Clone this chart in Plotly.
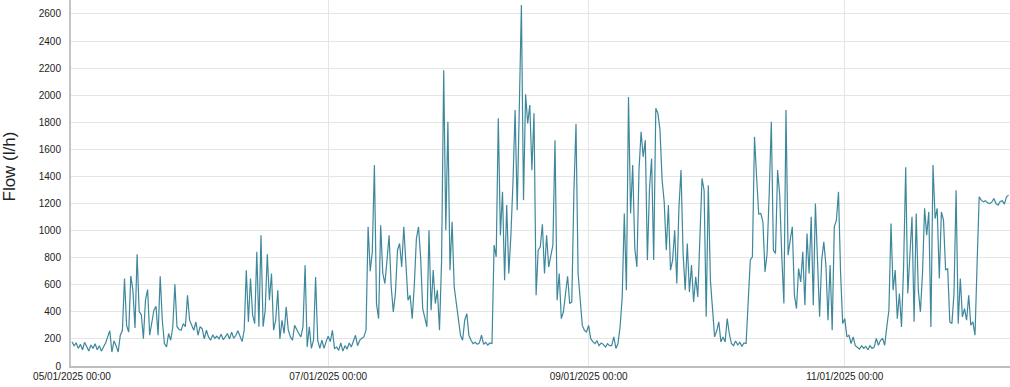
import pandas as pd
import plotly.graph_objects as go

# Flow readings every 12 hours, starting 2025-05-01 00:00 (l/h)
flow_may = [178, 150, 170, 130, 160, 120, 175, 140, 110, 155,
            130, 165, 120, 150, 110, 140, 170, 215, 260, 103,
            185, 150, 103, 227, 264, 646, 300, 250, 665, 560,
            281, 826, 400, 380, 202, 486, 565, 227, 313, 412,
            441, 227, 663, 338, 165, 140, 240, 190, 290, 604,
            290, 270, 264, 313, 290, 523, 338, 300, 264, 325,
            227, 290]
flow_jun = [275, 200, 264, 215, 190, 230, 205, 220, 200, 235,
            195, 215, 240, 200, 250, 205, 225, 260, 215, 180,
            264, 707, 325, 646, 380, 313, 843, 290, 966, 290,
            412, 826, 486, 683, 264, 338, 560, 200, 338, 240,
            437, 264, 215, 190, 300, 264, 240, 215, 290, 744,
            140, 290, 130, 190, 658, 190, 130, 190, 130, 180]
flow_jul = [220, 180, 264, 130, 140, 115, 170, 110, 150, 125,
            170, 140, 185, 227, 150, 190, 205, 215, 264, 1028,
            700, 843, 1484, 461, 350, 1040, 683, 609, 782, 966,
            585, 400, 535, 855, 905, 732, 1028, 782, 486, 523,
            350, 597, 941, 1028, 806, 424, 350, 289, 1003, 412,
            708, 461, 560, 264, 782, 2185, 1003, 1804, 708, 1065,
            585, 473]
flow_aug = [338, 227, 190, 338, 387, 227, 190, 165, 175, 160,
            170, 227, 160, 175, 155, 170, 166, 893, 806, 1829,
            966, 1286, 634, 1188, 683, 966, 1360, 1890, 1150, 1890,
            2666, 1225, 2007, 1791, 1927, 1445, 1866, 523, 855, 880,
            1047, 683, 966, 732, 830, 893, 1668, 486, 683, 350,
            400, 560, 663, 461, 473, 1286, 1787, 683, 461, 300,
            264, 252]
flow_sep = [300, 202, 180, 165, 185, 150, 170, 160, 140, 165,
            150, 150, 215, 130, 166, 290, 512, 1126, 560, 1986,
            1126, 1484, 868, 732, 1447, 1730, 1545, 1668, 782, 1311,
            1533, 782, 1903, 1866, 1742, 1373, 1212, 855, 1188, 708,
            782, 1003, 609, 1164, 1447, 831, 560, 905, 547, 745,
            473, 658, 510, 1028, 1385, 1298, 363, 1335, 634, 424]
flow_oct = [215, 260, 326, 178, 215, 178, 350, 240, 166, 150,
            185, 155, 175, 145, 170, 166, 535, 782, 806, 1693,
            1398, 1122, 1126, 1065, 695, 831, 1274, 1804, 855, 831,
            1447, 1262, 806, 461, 1891, 818, 930, 1028, 523, 424,
            720, 621, 843, 449, 979, 683, 1102, 449, 1200, 782,
            363, 782, 917, 745, 338, 745, 264, 1028, 1077, 1286,
            683, 313]
flow_nov = [350, 215, 227, 166, 215, 150, 140, 125, 150, 130,
            145, 120, 150, 130, 140, 203, 153, 190, 203, 153,
            289, 412, 1052, 560, 708, 350, 535, 289, 732, 1468,
            535, 880, 1102, 326, 1126, 560, 400, 683, 1164, 966,
            1138, 289, 1484, 1089, 1164, 646, 1138, 1077, 708, 720,
            326, 313, 535, 1298, 313, 646, 363, 424, 338, 523]
flow_dec = [301, 326, 227, 757, 1249, 1225, 1212, 1220, 1205, 1200,
            1210, 1237, 1200, 1188, 1215, 1220, 1195, 1250, 1262]

start_time = "2025-05-01 00:00"
tick_dates = ["2025-05-01", "2025-07-01", "2025-09-01", "2025-11-01"]
tick_labels = ["05/01/2025 00:00", "07/01/2025 00:00", "09/01/2025 00:00", "11/01/2025 00:00"]
y_ticks = list(range(0, 2601, 200))
x_range = ["2025-04-30 18:17", "2025-12-10 08:00"]
y_range = [0, 2703]

flow = flow_may + flow_jun + flow_jul + flow_aug + flow_sep + flow_oct + flow_nov + flow_dec
times = pd.date_range(start_time, periods=len(flow), freq="12h")

fig = go.Figure()
fig.add_trace(go.Scatter(
    x=times, y=flow, mode="lines",
    line=dict(color="#3e889c", width=1.2),
    hoverinfo="x+y", showlegend=False,
))

font_family = "Liberation Sans, Arial, sans-serif"
fig.update_layout(
    width=1010, height=387,
    margin=dict(l=71, r=0, t=0, b=21),
    paper_bgcolor="white", plot_bgcolor="white",
    font=dict(family=font_family, size=10, color="#222"),
    xaxis=dict(
        range=x_range, tickvals=tick_dates, ticktext=tick_labels,
        showgrid=True, gridcolor="#e5e5e5", gridwidth=1,
        showline=True, linecolor="#bdbdbd", linewidth=2,
        ticks="", tickfont=dict(size=10, color="#222"),
        zeroline=False, fixedrange=True,
    ),
    yaxis=dict(
        range=y_range, tickvals=y_ticks,
        showgrid=True, gridcolor="#e5e5e5", gridwidth=1,
        showline=True, linecolor="#c4c4c4", linewidth=2,
        ticks="", tickfont=dict(size=10, color="#222"),
        ticklabelstandoff=6,
        zeroline=False, fixedrange=True,
    ),
    annotations=[dict(
        text="Flow (l/h)", textangle=-90,
        xref="paper", yref="paper", x=-0.065, y=0.545,
        xanchor="center", yanchor="middle", showarrow=False,
        font=dict(family=font_family, size=17, color="#222"),
    )],
)

fig.write_html("out.html")
